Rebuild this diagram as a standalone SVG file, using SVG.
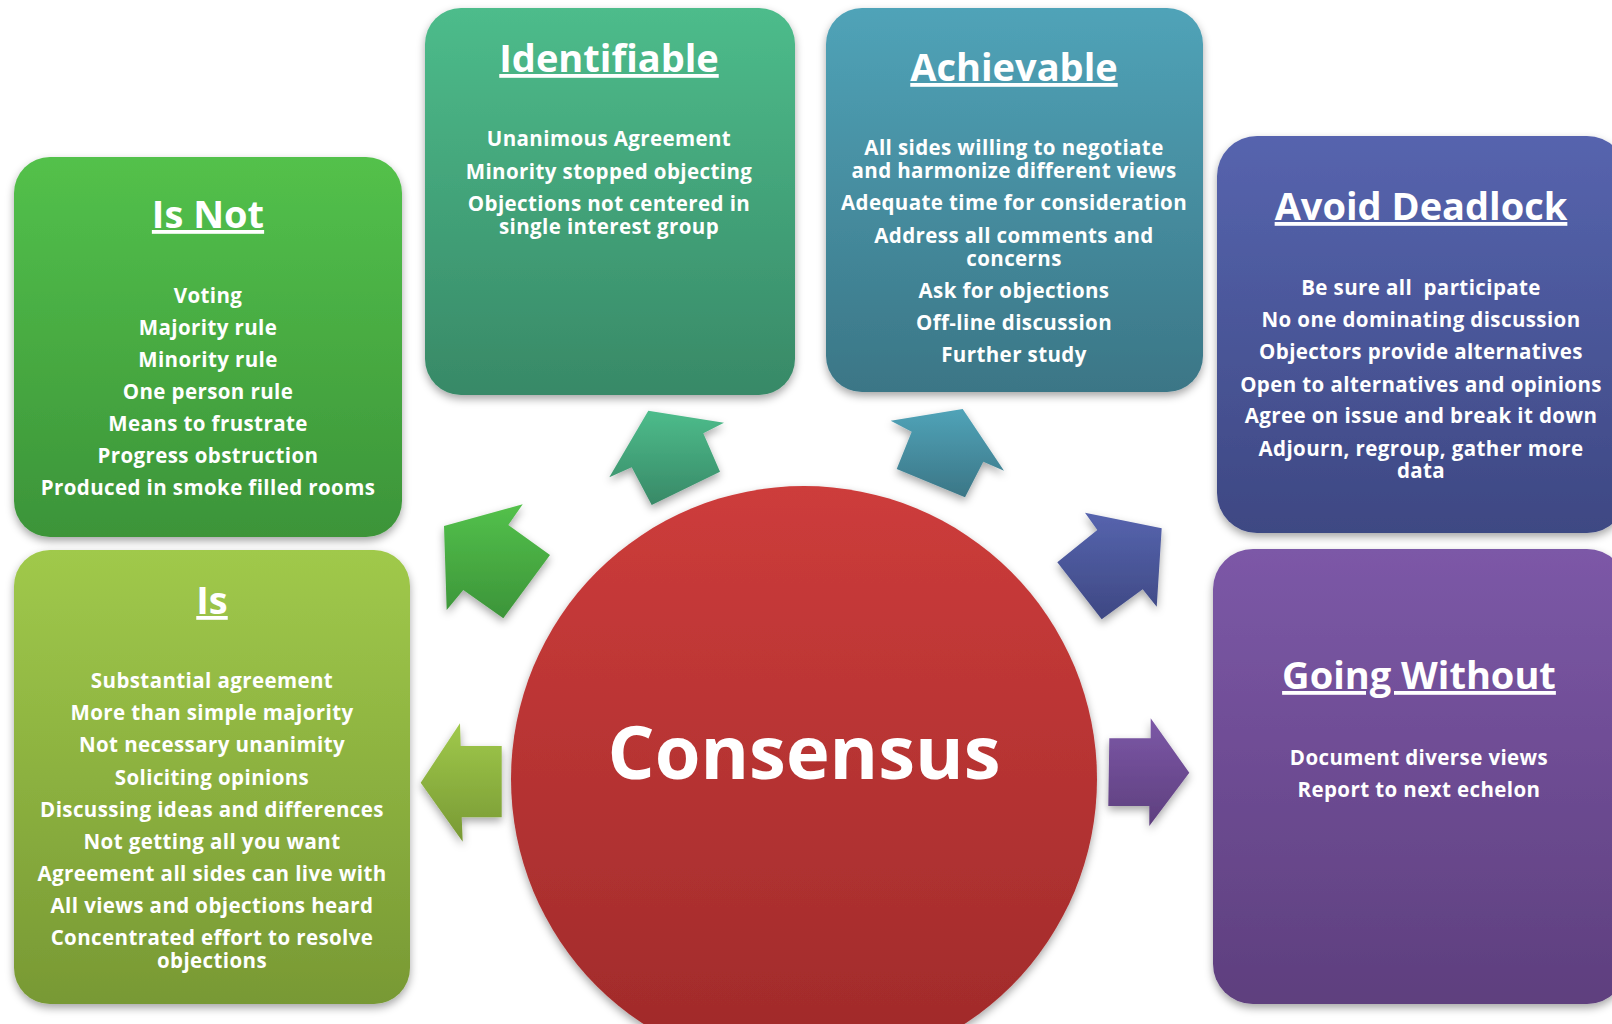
<svg xmlns="http://www.w3.org/2000/svg" width="1612" height="1024" viewBox="0 0 1612 1024">
<defs>
<style>
.t{font-family:"Open Sans","Liberation Sans",sans-serif;font-weight:700;fill:#fff;text-anchor:middle}
.h{font-size:38px;text-decoration:underline}
.b{font-size:20.5px;letter-spacing:0.4px}
.c{font-size:74px}
</style>
<linearGradient id="gNot" x1="0" y1="0" x2="0" y2="1"><stop offset="0" stop-color="#53c14b"/><stop offset="1" stop-color="#3c9439"/></linearGradient>
<linearGradient id="gIden" x1="0" y1="0" x2="0" y2="1"><stop offset="0" stop-color="#4dbc8b"/><stop offset="1" stop-color="#388967"/></linearGradient>
<linearGradient id="gAch" x1="0" y1="0" x2="0" y2="1"><stop offset="0" stop-color="#50a3b8"/><stop offset="1" stop-color="#3b7686"/></linearGradient>
<linearGradient id="gAvd" x1="0" y1="0" x2="0" y2="1"><stop offset="0" stop-color="#5664ae"/><stop offset="1" stop-color="#3e4883"/></linearGradient>
<linearGradient id="gGo" x1="0" y1="0" x2="0" y2="1"><stop offset="0" stop-color="#7c58a7"/><stop offset="1" stop-color="#5e3f7e"/></linearGradient>
<linearGradient id="gIs" x1="0" y1="0" x2="0" y2="1"><stop offset="0" stop-color="#a0c94b"/><stop offset="1" stop-color="#789934"/></linearGradient>
<linearGradient id="gCon" x1="0" y1="0" x2="0" y2="1"><stop offset="0" stop-color="#cd3c3b"/><stop offset="1" stop-color="#9e2a2a"/></linearGradient>
<filter id="sh" x="-10%" y="-10%" width="120%" height="125%">
<feDropShadow dx="0" dy="4" stdDeviation="4" flood-color="#000" flood-opacity="0.35"/>
</filter>
</defs>
<rect width="1612" height="1024" fill="#fff"/>

<g id="consensus">
<circle cx="804" cy="779" r="293" fill="url(#gCon)" filter="url(#sh)"/>
<text class="t c" x="804" y="779">Consensus</text>
</g>

<g id="connectors">
<polygon fill="url(#gNot)" filter="url(#sh)" points="444,526 522.7,504.3 508.3,525 550,555 503.3,618.3 463.3,590 446.7,610"/>
<polygon fill="url(#gIden)" filter="url(#sh)" points="648.3,410.7 724,422.7 703.3,433.3 720,471.7 651.7,505 631.7,467.3 609.3,477.3"/>
<polygon fill="url(#gAch)" filter="url(#sh)" points="962.7,409 1004,470.7 983.3,461.7 965,497.3 896.7,469 911.7,431.7 890.7,420.7"/>
<polygon fill="url(#gAvd)" filter="url(#sh)" points="1161.7,528.3 1156.7,606.7 1142.7,589.3 1101.7,619.3 1057.3,562.3 1097.3,530 1085,512.7"/>
<polygon fill="url(#gIs)" filter="url(#sh)" points="420.7,782.7 460,723.3 460.7,746 501.7,746 501.7,817.3 461.7,817.3 462.7,841.7"/>
<polygon fill="url(#gGo)" filter="url(#sh)" points="1109.3,738.3 1150.7,738.3 1150.7,718.3 1189.3,772.7 1149.3,826 1149.3,806 1108.3,806"/>
</g>

<g id="isnot">
<rect x="14" y="157" width="388" height="380" rx="36" fill="url(#gNot)" filter="url(#sh)"/>
<text class="t h" x="208" y="228">Is Not</text>
<text class="t b" x="208" y="303">Voting</text>
<text class="t b" x="208" y="335">Majority rule</text>
<text class="t b" x="208" y="367">Minority rule</text>
<text class="t b" x="208" y="399">One person rule</text>
<text class="t b" x="208" y="431">Means to frustrate</text>
<text class="t b" x="208" y="463">Progress obstruction</text>
<text class="t b" x="208" y="495">Produced in smoke filled rooms</text>
</g>

<g id="identifiable">
<rect x="425" y="8" width="370" height="387" rx="36" fill="url(#gIden)" filter="url(#sh)"/>
<text class="t h" x="609" y="72">Identifiable</text>
<text class="t b" x="609" y="146">Unanimous Agreement</text>
<text class="t b" x="609" y="179">Minority stopped objecting</text>
<text class="t b" x="609" y="211">Objections not centered in<tspan x="609" dy="23">single interest group</tspan></text>
</g>

<g id="achievable">
<rect x="826" y="8" width="377" height="384" rx="36" fill="url(#gAch)" filter="url(#sh)"/>
<text class="t h" x="1014" y="81">Achievable</text>
<text class="t b" x="1014" y="155">All sides willing to negotiate<tspan x="1014" dy="23">and harmonize different views</tspan></text>
<text class="t b" x="1014" y="210">Adequate time for consideration</text>
<text class="t b" x="1014" y="243">Address all comments and<tspan x="1014" dy="23">concerns</tspan></text>
<text class="t b" x="1014" y="298">Ask for objections</text>
<text class="t b" x="1014" y="330">Off-line discussion</text>
<text class="t b" x="1014" y="362">Further study</text>
</g>

<g id="avoid-deadlock">
<rect x="1217" y="136" width="410" height="397" rx="40" fill="url(#gAvd)" filter="url(#sh)"/>
<text class="t h" x="1421" y="220">Avoid Deadlock</text>
<text class="t b" x="1421" y="295" xml:space="preserve">Be sure all  participate</text>
<text class="t b" x="1421" y="327">No one dominating discussion</text>
<text class="t b" x="1421" y="359">Objectors provide alternatives</text>
<text class="t b" x="1421" y="392">Open to alternatives and opinions</text>
<text class="t b" x="1421" y="423">Agree on issue and break it down</text>
<text class="t b" x="1421" y="456">Adjourn, regroup, gather more<tspan x="1421" dy="22">data</tspan></text>
</g>

<g id="is">
<rect x="14" y="550" width="396" height="454" rx="36" fill="url(#gIs)" filter="url(#sh)"/>
<text class="t h" x="212" y="614">Is</text>
<text class="t b" x="212" y="688">Substantial agreement</text>
<text class="t b" x="212" y="720">More than simple majority</text>
<text class="t b" x="212" y="752">Not necessary unanimity</text>
<text class="t b" x="212" y="785">Soliciting opinions</text>
<text class="t b" x="212" y="817">Discussing ideas and differences</text>
<text class="t b" x="212" y="849">Not getting all you want</text>
<text class="t b" x="212" y="881">Agreement all sides can live with</text>
<text class="t b" x="212" y="913">All views and objections heard</text>
<text class="t b" x="212" y="945">Concentrated effort to resolve<tspan x="212" dy="23">objections</tspan></text>
</g>

<g id="going-without">
<rect x="1213" y="549" width="414" height="455" rx="40" fill="url(#gGo)" filter="url(#sh)"/>
<text class="t h" x="1419" y="689">Going Without</text>
<text class="t b" x="1419" y="765">Document diverse views</text>
<text class="t b" x="1419" y="797">Report to next echelon</text>
</g>
</svg>
